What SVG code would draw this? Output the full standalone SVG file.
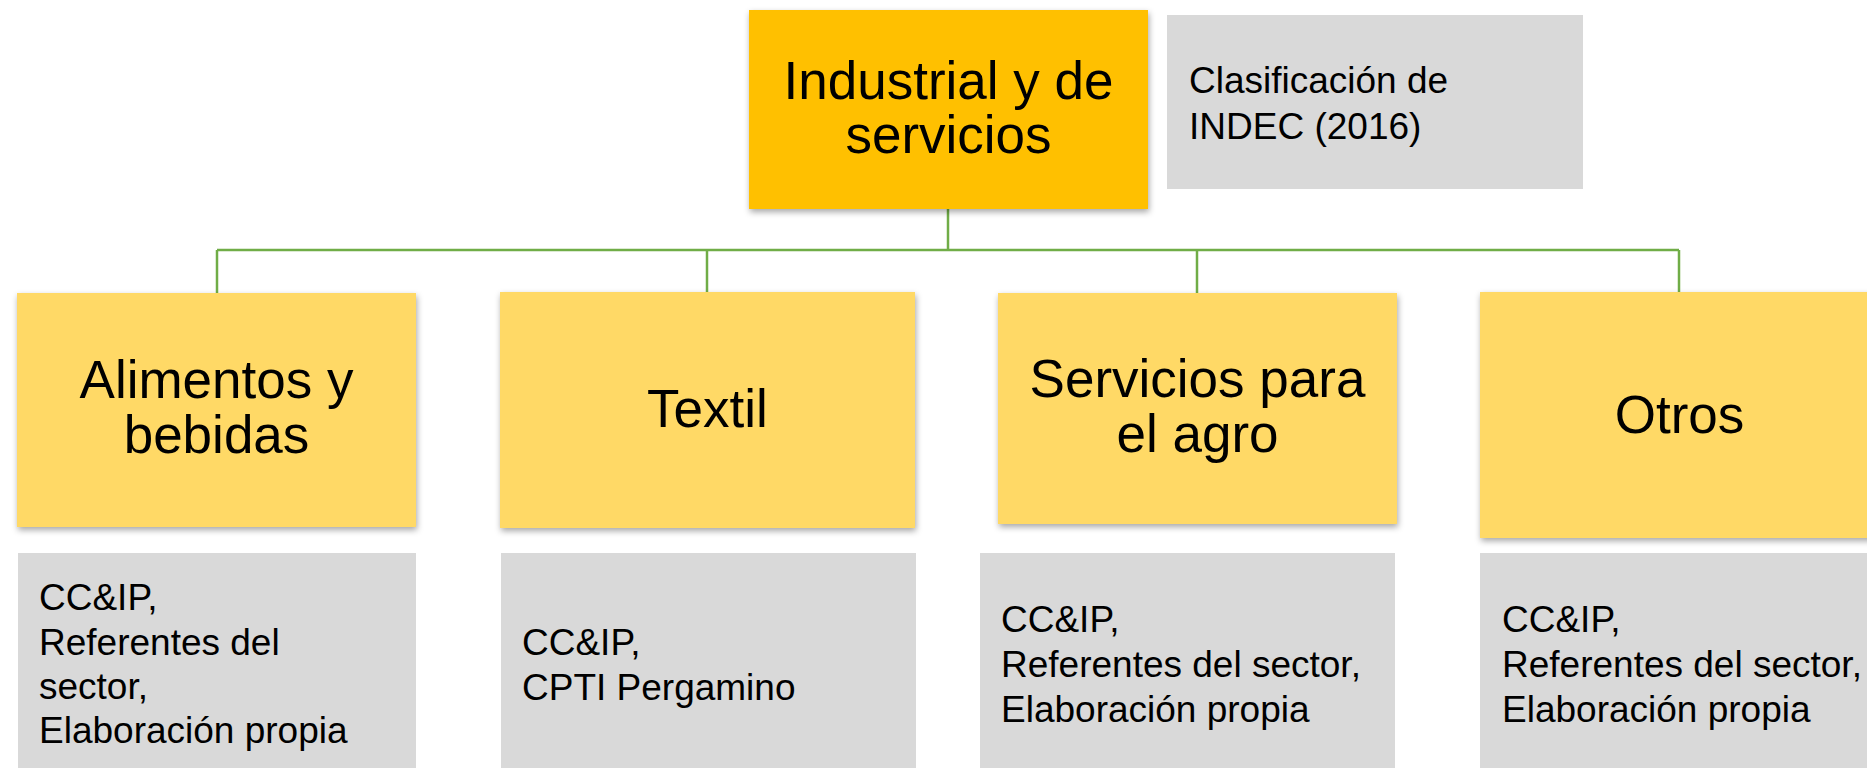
<svg xmlns="http://www.w3.org/2000/svg" width="1867" height="768" viewBox="0 0 1867 768">
  <defs>
    <filter id="sh" x="-10%" y="-10%" width="130%" height="130%">
      <feDropShadow dx="1" dy="3" stdDeviation="3" flood-color="#000" flood-opacity="0.35"/>
    </filter>
    <style>
      .t { font-family: "Liberation Sans", Arial, sans-serif; fill: #000; }
      .big { font-size: 53px; text-anchor: middle; }
      .small { font-size: 37px; }
      .main { fill: #FFC000; filter: url(#sh); }
      .cat { fill: #FFD966; filter: url(#sh); }
      .src { fill: #D9D9D9; }
      .conn { stroke: #70AD47; stroke-width: 2.5; fill: none; }
    </style>
  </defs>
  <rect x="0" y="0" width="1867" height="768" fill="#FFFFFF"/>

  <g id="connectors">
    <line class="conn" x1="948" y1="209" x2="948" y2="250"/>
    <line class="conn" x1="217" y1="250" x2="1679" y2="250"/>
    <line class="conn" x1="217" y1="250" x2="217" y2="293"/>
    <line class="conn" x1="707" y1="250" x2="707" y2="292"/>
    <line class="conn" x1="1197" y1="250" x2="1197" y2="293"/>
    <line class="conn" x1="1679" y1="250" x2="1679" y2="292"/>
  </g>

  <g id="node-industrial">
    <rect class="main" x="749" y="10" width="399" height="199"/>
    <text class="t big" x="948.5" y="99">Industrial y de</text>
    <text class="t big" x="948.5" y="153">servicios</text>
  </g>

  <g id="node-indec">
    <rect class="src" x="1167" y="15" width="416" height="174"/>
    <text class="t small" x="1189" y="93">Clasificación de</text>
    <text class="t small" x="1189" y="139">INDEC (2016)</text>
  </g>

  <g id="node-alimentos">
    <rect class="cat" x="17" y="293" width="399" height="234"/>
    <text class="t big" x="216.5" y="398">Alimentos y</text>
    <text class="t big" x="216.5" y="453">bebidas</text>
  </g>

  <g id="node-textil">
    <rect class="cat" x="500" y="292" width="415" height="236"/>
    <text class="t big" x="707.5" y="427">Textil</text>
  </g>

  <g id="node-servicios">
    <rect class="cat" x="998" y="293" width="399" height="231"/>
    <text class="t big" x="1197.5" y="397">Servicios para</text>
    <text class="t big" x="1197.5" y="452">el agro</text>
  </g>

  <g id="node-otros">
    <rect class="cat" x="1480" y="292" width="399" height="246"/>
    <text class="t big" x="1679.5" y="433">Otros</text>
  </g>

  <g id="src-alimentos">
    <rect class="src" x="18" y="553" width="398" height="215"/>
    <text class="t small" x="39" y="610">CC&amp;IP,</text>
    <text class="t small" x="39" y="655">Referentes del</text>
    <text class="t small" x="39" y="699">sector,</text>
    <text class="t small" x="39" y="743">Elaboración propia</text>
  </g>

  <g id="src-textil">
    <rect class="src" x="501" y="553" width="415" height="215"/>
    <text class="t small" x="522" y="655">CC&amp;IP,</text>
    <text class="t small" x="522" y="700">CPTI Pergamino</text>
  </g>

  <g id="src-servicios">
    <rect class="src" x="980" y="553" width="415" height="215"/>
    <text class="t small" x="1001" y="632">CC&amp;IP,</text>
    <text class="t small" x="1001" y="677">Referentes del sector,</text>
    <text class="t small" x="1001" y="722">Elaboración propia</text>
  </g>

  <g id="src-otros">
    <rect class="src" x="1480" y="553" width="400" height="215"/>
    <text class="t small" x="1502" y="632">CC&amp;IP,</text>
    <text class="t small" x="1502" y="677">Referentes del sector,</text>
    <text class="t small" x="1502" y="722">Elaboración propia</text>
  </g>
</svg>
